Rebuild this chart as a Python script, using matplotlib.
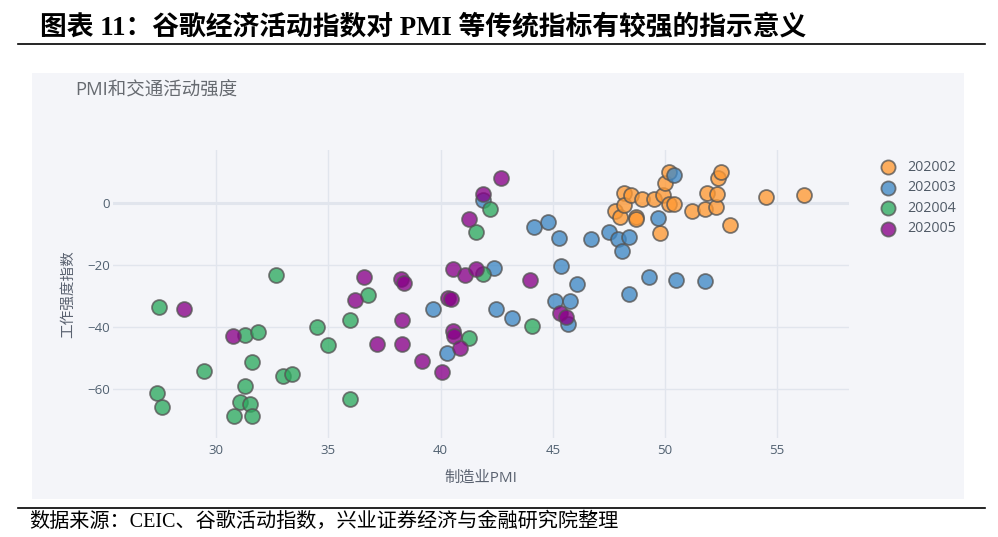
import matplotlib
matplotlib.use("Agg")
import matplotlib.pyplot as plt
from matplotlib.lines import Line2D
from matplotlib.patches import Rectangle

plt.rcParams['font.family'] = ['Open Sans', 'Noto Sans CJK SC', 'DejaVu Sans']

# 数据：制造业PMI (x) 与 工作强度指数 (y)，按月份分组
series_names = ['202002', '202003', '202004', '202005']
colors = ['#ff9933', '#3f88c5', '#2eaa60', '#870087']

pmi_202002 = [47.78, 47.99, 48.19, 48.19, 48.48, 48.69, 48.71, 48.99, 49.50, 49.92, 49.78, 50.00, 50.19,
              50.18, 50.40, 51.19, 51.77, 52.29, 51.87, 52.30, 52.38, 52.48, 52.90, 54.49, 56.18]
work_202002 = [-2.8, -4.5, 3.2, -0.6, 2.5, -4.5, -5.4, 1.3, 1.3, 2.4, -9.7, 6.5, 9.9,
               -0.5, -0.3, -2.8, -1.9, -1.5, 3.2, 2.7, 8.1, 9.9, -7.3, 1.8, 2.5]

pmi_202003 = [39.68, 40.30, 42.39, 41.87, 42.47, 43.18, 44.16, 44.79, 45.29, 45.38, 46.07, 45.08, 45.78,
              45.69, 46.69, 47.49, 47.89, 48.40, 48.10, 49.67, 50.40, 49.27, 50.48, 51.78, 48.38]
work_202003 = [-34.3, -48.6, -21.1, 0.9, -34.2, -37.3, -7.8, -6.3, -11.3, -20.5, -26.1, -31.6, -31.8,
               -39.1, -11.8, -9.5, -11.8, -11.2, -15.6, -4.9, 9.0, -24.0, -24.8, -25.3, -29.5]

pmi_202004 = [27.46, 32.66, 31.28, 31.88, 29.47, 31.58, 32.96, 33.38, 27.38, 27.57, 31.28, 31.06, 31.51,
              30.78, 31.58, 34.48, 35.00, 35.96, 36.78, 35.96, 41.28, 41.59, 42.19, 41.90, 44.07]
work_202004 = [-33.7, -23.2, -42.7, -41.8, -54.4, -51.5, -55.9, -55.4, -61.5, -65.9, -59.1, -64.4, -64.9,
               -68.9, -68.9, -40.2, -45.9, -37.7, -29.9, -63.3, -43.5, -9.5, -1.9, -22.9, -39.9]

pmi_202005 = [28.56, 30.76, 36.57, 36.18, 37.17, 38.22, 38.37, 38.27, 38.27, 39.16, 40.08, 40.34, 40.46,
              40.57, 40.60, 40.86, 40.57, 41.09, 41.58, 41.28, 41.87, 42.68, 43.98, 45.33, 45.59]
work_202005 = [-34.3, -43.0, -24.0, -31.5, -45.6, -24.7, -25.8, -37.8, -45.6, -51.2, -54.7, -30.7, -31.2,
               -41.4, -43.0, -46.8, -21.3, -23.2, -21.4, -5.3, 2.9, 8.0, -24.8, -35.5, -36.8]

x_data = [pmi_202002, pmi_202003, pmi_202004, pmi_202005]
y_data = [work_202002, work_202003, work_202004, work_202005]

x_ticks = [30, 35, 40, 45, 50, 55]
y_ticks = [0, -20, -40, -60]

bg = '#f4f5f9'
grid_c = '#e1e5ed'
tick_c = '#506070'

fig = plt.figure(figsize=(9.98, 5.37), dpi=100)

# panel background
fig.patches.append(Rectangle((0.0324, 0.0708), 0.934, 0.7927, transform=fig.transFigure,
                             facecolor=bg, edgecolor='none', zorder=-5))

ax = fig.add_axes([0.1132, 0.1838, 0.7375, 0.5369])
ax.set_zorder(2)
ax.set_facecolor(bg)
for s in ax.spines.values():
    s.set_visible(False)

ax.set_xlim(25.4, 58.2)
ax.set_ylim(-76.0, 17.0)
ax.set_xticks(x_ticks)
ax.set_yticks(y_ticks)
ax.tick_params(length=0, labelsize=9.5, labelcolor=tick_c, pad=2)
ax.tick_params(axis='x', pad=4)
ax.grid(True, color=grid_c, linewidth=1)
ax.axhline(0, color=grid_c, linewidth=2.2, zorder=0.5)
ax.set_axisbelow(True)

for name, xs, ys, c in zip(series_names, x_data, y_data, colors):
    ax.scatter(xs, ys, s=115, color=c, alpha=0.78, edgecolors='#555555', linewidths=1.3,
               label=name, zorder=3)

leg = ax.legend(loc='upper left', bbox_to_anchor=(1.026, 0.985), frameon=False, fontsize=10.3,
                handletextpad=0.3, labelspacing=0.38, borderaxespad=0, markerscale=0.95)
for t in leg.get_texts():
    t.set_color('#505a66')

ax.set_xlabel('制造业PMI', fontsize=11, color='#5a6270', labelpad=10)
ax.set_ylabel('工作强度指数', fontsize=10.5, color='#5a6270', labelpad=8)

fig.text(0.075, 0.832, 'PMI和交通活动强度', fontsize=13.3, color='#666a70', va='center', ha='left')

# report title and source
serif = ['Liberation Serif', 'Noto Sans CJK SC']
fig.text(0.040, 0.948, '图表 11：谷歌经济活动指数对 PMI 等传统指标有较强的指示意义', fontsize=19.3,
         fontweight='bold', family=serif, va='center', ha='left', color='black')
fig.add_artist(Line2D([0.018, 0.987], [0.918, 0.918], transform=fig.transFigure, color='black', lw=1.2))
fig.add_artist(Line2D([0.018, 0.987], [0.054, 0.054], transform=fig.transFigure, color='black', lw=1.2))
fig.text(0.029, 0.028, '数据来源：CEIC、谷歌活动指数，兴业证券经济与金融研究院整理', fontsize=14.5,
         family=serif, va='center', ha='left', color='black')

fig.savefig('out.png', dpi=100, facecolor='white')
